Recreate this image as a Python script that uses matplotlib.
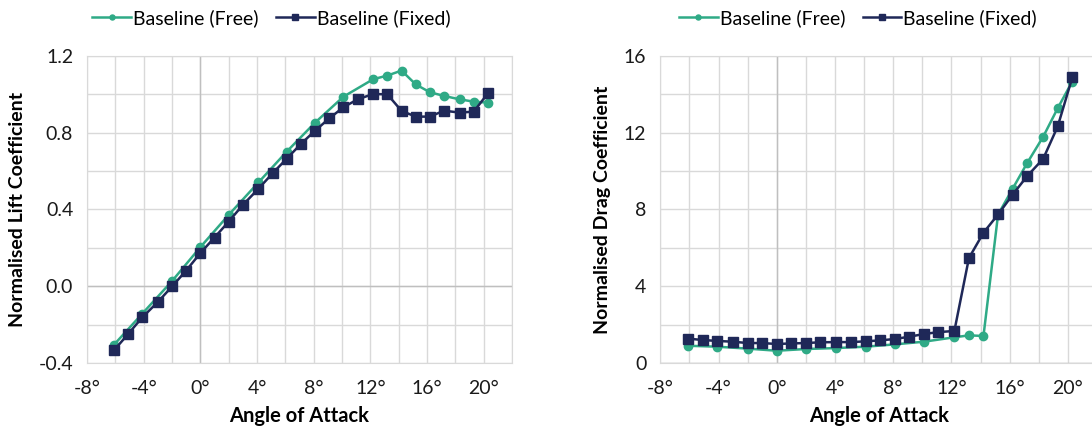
import matplotlib.pyplot as plt
from matplotlib.ticker import MultipleLocator, FuncFormatter

plt.rcParams['font.family'] = ['Lato', 'DejaVu Sans']

# angles of attack (deg)
aoa_fixed = [-6.1, -5.1, -4.1, -3.0, -2.0, -1.0, 0.0, 1.0, 2.0, 3.0, 4.1, 5.1, 6.1, 7.1,
             8.1, 9.1, 10.1, 11.1, 12.2, 13.2, 14.2, 15.2, 16.2, 17.2, 18.3, 19.3, 20.3]
aoa_free = [-6.1, -4.1, -2.0, 0.0, 2.0, 4.1, 6.1, 8.1, 10.1, 12.2, 13.2, 14.2, 15.2,
            16.2, 17.2, 18.3, 19.3, 20.3]

# normalised lift coefficient
cl_fixed = [-0.334, -0.249, -0.162, -0.082, -0.001, 0.082, 0.173, 0.254, 0.337, 0.424,
            0.508, 0.589, 0.665, 0.742, 0.811, 0.875, 0.933, 0.974, 1.002, 1.000,
            0.914, 0.884, 0.884, 0.915, 0.905, 0.910, 1.006]
cl_free = [-0.305, -0.143, 0.027, 0.204, 0.372, 0.541, 0.702, 0.853, 0.988, 1.079,
           1.098, 1.124, 1.052, 1.011, 0.992, 0.974, 0.962, 0.957]

# normalised drag coefficient
cd_fixed = [1.27, 1.20, 1.15, 1.11, 1.04, 1.04, 0.99, 1.02, 1.04, 1.08, 1.09, 1.09,
            1.13, 1.18, 1.25, 1.37, 1.51, 1.61, 1.67, 5.47, 6.79, 7.74, 8.77, 9.74,
            10.64, 12.33, 14.88]
cd_free = [0.90, 0.85, 0.75, 0.64, 0.73, 0.78, 0.85, 0.97, 1.11, 1.34, 1.44, 1.41,
           7.73, 9.08, 10.42, 11.79, 13.28, 14.67]

GREEN = '#2FAA86'
NAVY = '#1F2858'
GRID = '#D9D9D9'

fig = plt.figure(figsize=(10.92, 4.32), dpi=100)
ax1 = fig.add_axes([0.0797, 0.1597, 0.3892, 0.7107])
ax2 = fig.add_axes([0.6047, 0.1597, 0.3999, 0.7107])


def style_axis(ax, ylim, ymajor, yminor, yfmt, ylabel):
    ax.set_xlim(-8, 22)
    ax.set_ylim(*ylim)
    ax.xaxis.set_major_locator(MultipleLocator(4))
    ax.xaxis.set_minor_locator(MultipleLocator(2))
    ax.yaxis.set_major_locator(MultipleLocator(ymajor))
    ax.yaxis.set_minor_locator(MultipleLocator(yminor))
    ax.xaxis.set_major_formatter(FuncFormatter(lambda v, p: f'{v:.0f}°'))
    ax.yaxis.set_major_formatter(FuncFormatter(yfmt))
    ax.grid(which='both', color=GRID, linewidth=1.0, zorder=0)
    ax.axvline(0, color='#BFBFBF', linewidth=1.0, zorder=1)
    ax.axhline(0, color='#BFBFBF', linewidth=1.0, zorder=1)
    ax.tick_params(which='both', length=0, labelsize=14, colors='#1a1a1a')
    ax.tick_params(axis='x', pad=12)
    ax.tick_params(axis='y', pad=10)
    for s in ax.spines.values():
        s.set_color(GRID)
    ax.set_xlabel('Angle of Attack', fontsize=14.5, fontweight='bold', labelpad=7)
    ax.set_ylabel(ylabel, fontsize=14, fontweight='bold', labelpad=9)
    ax.set_axisbelow(True)


def plot_series(ax, yfree, yfixed, legend_x):
    ax.plot(aoa_free, yfree, color=GREEN, marker='o', markersize=6, linewidth=1.8,
            label='Baseline (Free)', zorder=3)
    ax.plot(aoa_fixed, yfixed, color=NAVY, marker='s', markersize=7.5, linewidth=1.8,
            label='Baseline (Fixed)', zorder=4)
    leg = ax.legend(loc='center left', bbox_to_anchor=(legend_x, 1.124), ncol=2, frameon=False,
                    fontsize=14, handlelength=2.0, handletextpad=0.1, columnspacing=0.9,
                    borderaxespad=0, borderpad=0, markerscale=0.6)
    return leg


plot_series(ax1, cl_free, cl_fixed, 0.012)
style_axis(ax1, (-0.4, 1.2), 0.4, 0.2, lambda v, p: f'{v:.1f}', 'Normalised Lift Coefficient')

plot_series(ax2, cd_free, cd_fixed, 0.042)
style_axis(ax2, (0, 16), 4, 2, lambda v, p: f'{v:.0f}', 'Normalised Drag Coefficient')

fig.savefig('out.png', dpi=100)
